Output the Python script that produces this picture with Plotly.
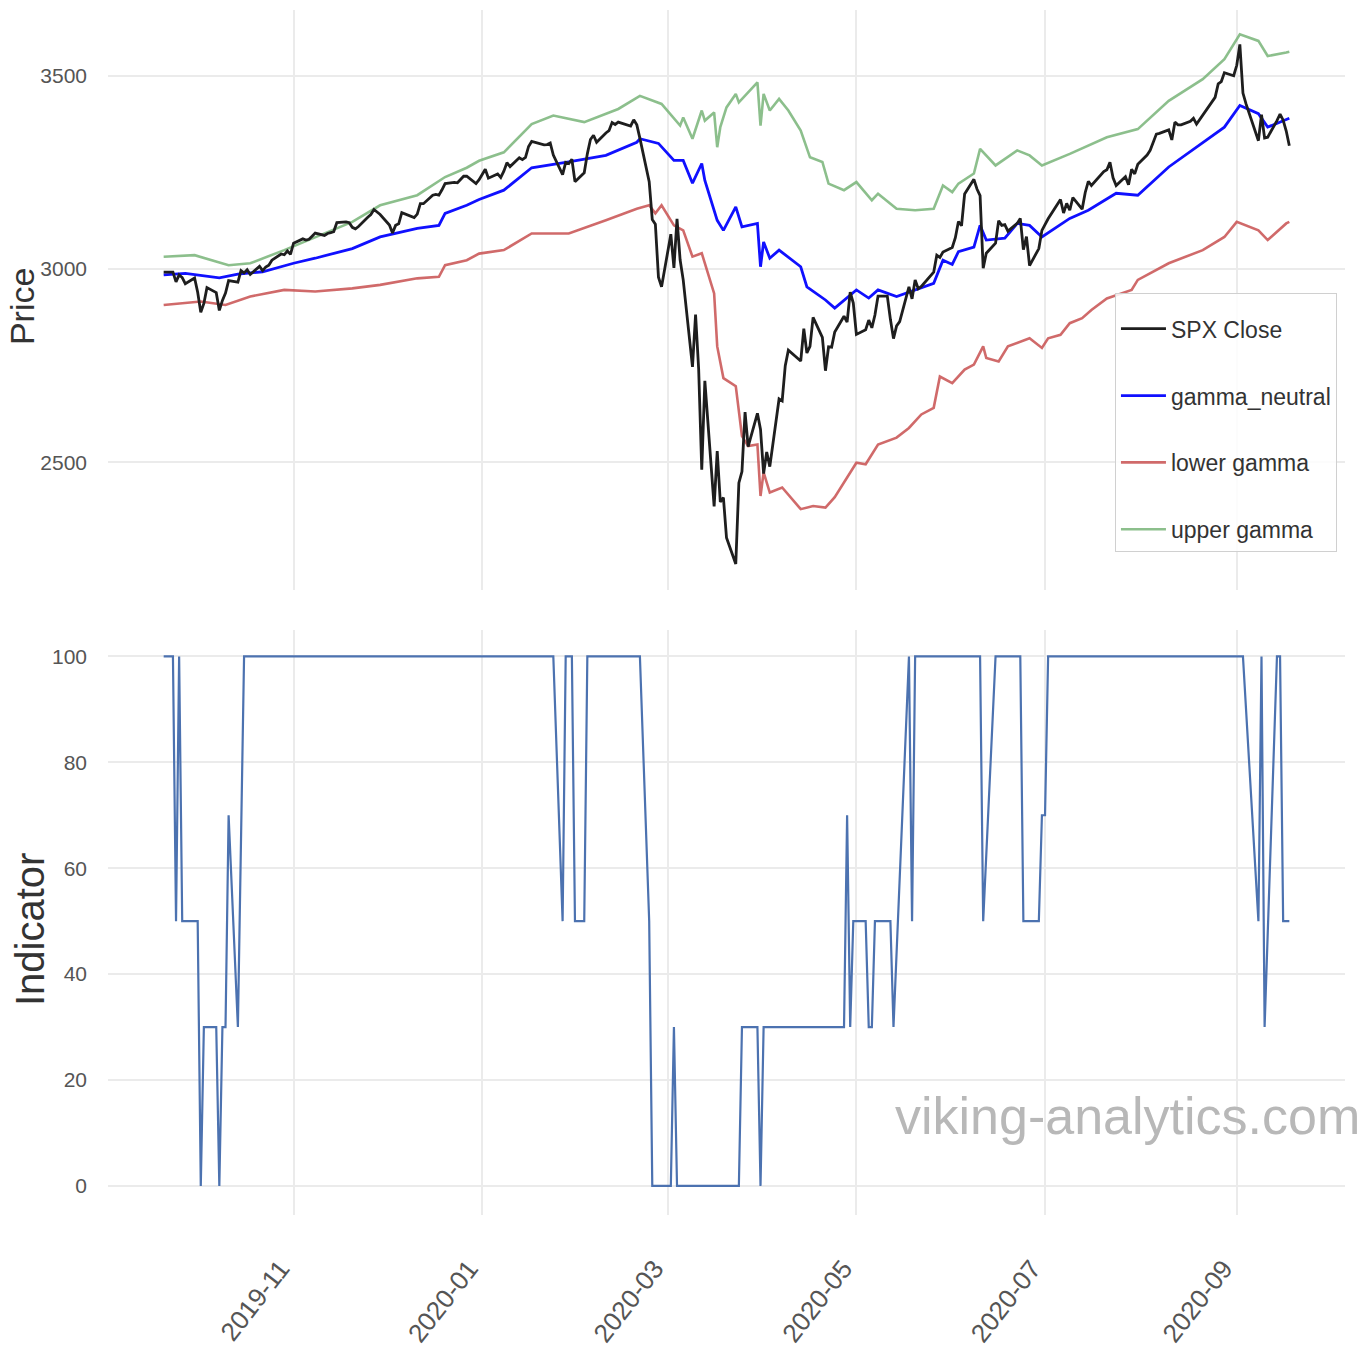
import plotly.graph_objects as go
from plotly.subplots import make_subplots

# ---------------- data ----------------
spx_dates = [
    "2019-09-20", "2019-09-23", "2019-09-24", "2019-09-25", "2019-09-26", "2019-09-27", "2019-09-30",
    "2019-10-01", "2019-10-02", "2019-10-03", "2019-10-04", "2019-10-07", "2019-10-08", "2019-10-09",
    "2019-10-10", "2019-10-11", "2019-10-14", "2019-10-15", "2019-10-16", "2019-10-17", "2019-10-18",
    "2019-10-21", "2019-10-22", "2019-10-23", "2019-10-24", "2019-10-25", "2019-10-28", "2019-10-29",
    "2019-10-30", "2019-10-31",
    "2019-11-01", "2019-11-04", "2019-11-05", "2019-11-06", "2019-11-07", "2019-11-08", "2019-11-11",
    "2019-11-12", "2019-11-13", "2019-11-14", "2019-11-15", "2019-11-18", "2019-11-19", "2019-11-20",
    "2019-11-21", "2019-11-22", "2019-11-25", "2019-11-26", "2019-11-27", "2019-11-29",
    "2019-12-02", "2019-12-03", "2019-12-04", "2019-12-05", "2019-12-06", "2019-12-09", "2019-12-10",
    "2019-12-11", "2019-12-12", "2019-12-13", "2019-12-16", "2019-12-17", "2019-12-18", "2019-12-19",
    "2019-12-20", "2019-12-23", "2019-12-24", "2019-12-26", "2019-12-27", "2019-12-30", "2019-12-31",
    "2020-01-02", "2020-01-03", "2020-01-06", "2020-01-07", "2020-01-08", "2020-01-09", "2020-01-10",
    "2020-01-13", "2020-01-14", "2020-01-15", "2020-01-16", "2020-01-17", "2020-01-21", "2020-01-22",
    "2020-01-23", "2020-01-24", "2020-01-27", "2020-01-28", "2020-01-29", "2020-01-30", "2020-01-31",
    "2020-02-03", "2020-02-04", "2020-02-05", "2020-02-06", "2020-02-07", "2020-02-10", "2020-02-11",
    "2020-02-12", "2020-02-13", "2020-02-14", "2020-02-18", "2020-02-19", "2020-02-20", "2020-02-21",
    "2020-02-24", "2020-02-25", "2020-02-26", "2020-02-27", "2020-02-28",
    "2020-03-02", "2020-03-03", "2020-03-04", "2020-03-05", "2020-03-06", "2020-03-09", "2020-03-10",
    "2020-03-11", "2020-03-12", "2020-03-13", "2020-03-16", "2020-03-17", "2020-03-18", "2020-03-19",
    "2020-03-20", "2020-03-23", "2020-03-24", "2020-03-25", "2020-03-26", "2020-03-27", "2020-03-30",
    "2020-03-31",
    "2020-04-01", "2020-04-02", "2020-04-03", "2020-04-06", "2020-04-07", "2020-04-08", "2020-04-09",
    "2020-04-13", "2020-04-14", "2020-04-15", "2020-04-16", "2020-04-17", "2020-04-20", "2020-04-21",
    "2020-04-22", "2020-04-23", "2020-04-24", "2020-04-27", "2020-04-28", "2020-04-29", "2020-04-30",
    "2020-05-01", "2020-05-04", "2020-05-05", "2020-05-06", "2020-05-07", "2020-05-08", "2020-05-11",
    "2020-05-12", "2020-05-13", "2020-05-14", "2020-05-15", "2020-05-18", "2020-05-19", "2020-05-20",
    "2020-05-21", "2020-05-22", "2020-05-26", "2020-05-27", "2020-05-28", "2020-05-29",
    "2020-06-01", "2020-06-02", "2020-06-03", "2020-06-04", "2020-06-05", "2020-06-08", "2020-06-09",
    "2020-06-10", "2020-06-11", "2020-06-12", "2020-06-15", "2020-06-16", "2020-06-17", "2020-06-18",
    "2020-06-19", "2020-06-22", "2020-06-23", "2020-06-24", "2020-06-25", "2020-06-26", "2020-06-29",
    "2020-06-30",
    "2020-07-01", "2020-07-02", "2020-07-06", "2020-07-07", "2020-07-08", "2020-07-09", "2020-07-10",
    "2020-07-13", "2020-07-14", "2020-07-15", "2020-07-16", "2020-07-17", "2020-07-20", "2020-07-21",
    "2020-07-22", "2020-07-23", "2020-07-24", "2020-07-27", "2020-07-28", "2020-07-29", "2020-07-30",
    "2020-07-31",
    "2020-08-03", "2020-08-04", "2020-08-05", "2020-08-06", "2020-08-07", "2020-08-10", "2020-08-11",
    "2020-08-12", "2020-08-13", "2020-08-14", "2020-08-17", "2020-08-18", "2020-08-19", "2020-08-20",
    "2020-08-21", "2020-08-24", "2020-08-25", "2020-08-26", "2020-08-27", "2020-08-28", "2020-08-31",
    "2020-09-01", "2020-09-02", "2020-09-03", "2020-09-04", "2020-09-08", "2020-09-09", "2020-09-10",
    "2020-09-11", "2020-09-14", "2020-09-15", "2020-09-16", "2020-09-17", "2020-09-18",
]
spx_close = [
    2992, 2992, 2967, 2985, 2978, 2962, 2977,
    2940, 2888, 2911, 2952, 2939, 2893, 2919,
    2938, 2970, 2966, 2996, 2990, 2998, 2986,
    3007, 2996, 3005, 3010, 3023, 3039, 3037,
    3047, 3038,
    3067, 3078, 3075, 3077, 3085, 3093, 3087,
    3092, 3094, 3097, 3120, 3122, 3120, 3108,
    3104, 3110, 3134, 3141, 3154, 3141,
    3114, 3093, 3113, 3117, 3146, 3136, 3133,
    3142, 3169, 3169, 3191, 3193, 3191, 3205,
    3221, 3224, 3223, 3240, 3240, 3221, 3231,
    3258, 3235, 3246, 3237, 3253, 3275, 3265,
    3288, 3283, 3289, 3317, 3330, 3321, 3322,
    3326, 3295, 3244, 3276, 3273, 3284, 3226,
    3249, 3298, 3335, 3346, 3328, 3352, 3358,
    3379, 3374, 3380, 3370, 3386, 3373, 3338,
    3226, 3128, 3116, 2979, 2954,
    3090, 3003, 3130, 3024, 2972, 2747, 2882,
    2741, 2481, 2711, 2386, 2529, 2398, 2409,
    2305, 2237, 2447, 2476, 2630, 2541, 2627,
    2585,
    2471, 2527, 2489, 2664, 2659, 2750, 2790,
    2762, 2846, 2783, 2800, 2875, 2823, 2737,
    2799, 2798, 2837, 2878, 2863, 2940, 2912,
    2831, 2843, 2868, 2848, 2881, 2930, 2930,
    2870, 2820, 2853, 2864, 2954, 2923, 2972,
    2949, 2955, 2992, 3036, 3030, 3044,
    3056, 3081, 3123, 3112, 3194, 3232, 3207,
    3190, 3002, 3041, 3067, 3125, 3113, 3115,
    3098, 3118, 3131, 3050, 3084, 3009, 3053,
    3100,
    3116, 3130, 3180, 3145, 3170, 3152, 3185,
    3155, 3198, 3227, 3216, 3225, 3252, 3257,
    3276, 3236, 3216, 3239, 3218, 3258, 3246,
    3271,
    3295, 3307, 3328, 3349, 3351, 3360, 3334,
    3380, 3373, 3373, 3382, 3390, 3375, 3386,
    3397, 3431, 3444, 3479, 3485, 3508, 3500,
    3527, 3581, 3455, 3427, 3332, 3399, 3339,
    3341, 3384, 3401, 3385, 3357, 3319,
]

gn_dates = [
    "2019-09-20", "2019-09-27", "2019-10-08", "2019-10-14", "2019-10-22", "2019-11-01", "2019-11-08",
    "2019-11-20", "2019-11-29", "2019-12-11", "2019-12-18", "2019-12-20", "2019-12-27", "2019-12-31",
    "2020-01-08", "2020-01-17", "2020-01-29", "2020-02-10", "2020-02-20", "2020-02-21", "2020-02-27",
    "2020-03-03", "2020-03-06", "2020-03-09", "2020-03-12", "2020-03-13", "2020-03-17", "2020-03-19",
    "2020-03-23", "2020-03-25", "2020-03-30", "2020-03-31", "2020-04-01", "2020-04-03", "2020-04-06",
    "2020-04-13", "2020-04-15", "2020-04-21", "2020-04-24", "2020-05-01", "2020-05-05", "2020-05-08",
    "2020-05-14", "2020-05-20", "2020-05-26", "2020-05-29", "2020-06-01", "2020-06-03", "2020-06-08",
    "2020-06-10", "2020-06-12", "2020-06-18", "2020-06-22", "2020-06-26", "2020-06-30", "2020-07-09",
    "2020-07-15", "2020-07-24", "2020-07-31", "2020-08-10", "2020-08-19", "2020-08-28", "2020-09-02",
    "2020-09-08", "2020-09-11", "2020-09-17", "2020-09-18",
]
gn_vals = [
    2985, 2989, 2977, 2987, 2993, 3015, 3028,
    3053, 3083, 3105, 3113, 3144, 3165, 3180,
    3204, 3262, 3277, 3294, 3328, 3337, 3325,
    3281, 3281, 3222, 3273, 3229, 3126, 3100,
    3161, 3109, 3118, 3006, 3070, 3028, 3049,
    3006, 2954, 2920, 2899, 2946, 2925, 2946,
    2929, 2946, 2963, 3023, 3012, 3045, 3057,
    3113, 3075, 3080, 3118, 3113, 3083, 3131,
    3152, 3196, 3191, 3264, 3315, 3367, 3423,
    3402, 3367, 3388, 3390,
]

lg_dates = [
    "2019-09-20", "2019-10-02", "2019-10-10", "2019-10-18", "2019-10-29", "2019-11-08", "2019-11-20",
    "2019-11-29", "2019-12-11", "2019-12-18", "2019-12-20", "2019-12-27", "2019-12-31", "2020-01-08",
    "2020-01-17", "2020-01-29", "2020-02-10", "2020-02-20", "2020-02-24", "2020-02-26", "2020-02-28",
    "2020-03-03", "2020-03-06", "2020-03-09", "2020-03-12", "2020-03-16", "2020-03-17", "2020-03-19",
    "2020-03-23", "2020-03-25", "2020-03-27", "2020-03-30", "2020-03-31", "2020-04-01", "2020-04-03",
    "2020-04-07", "2020-04-13", "2020-04-17", "2020-04-21", "2020-04-24", "2020-05-01", "2020-05-04",
    "2020-05-08", "2020-05-14", "2020-05-18", "2020-05-22", "2020-05-26", "2020-05-28", "2020-06-01",
    "2020-06-05", "2020-06-08", "2020-06-11", "2020-06-12", "2020-06-16", "2020-06-19", "2020-06-26",
    "2020-06-30", "2020-07-02", "2020-07-06", "2020-07-09", "2020-07-13", "2020-07-16", "2020-07-21",
    "2020-07-23", "2020-07-29", "2020-07-31", "2020-08-10", "2020-08-21", "2020-08-28", "2020-09-01",
    "2020-09-08", "2020-09-11", "2020-09-17", "2020-09-18",
]
lg_vals = [
    2907, 2916, 2907, 2929, 2946, 2942, 2950,
    2959, 2976, 2980, 3010, 3023, 3040, 3049,
    3092, 3092, 3126, 3156, 3165, 3144, 3165,
    3113, 3100, 3032, 3041, 2937, 2800, 2718,
    2697, 2568, 2542, 2546, 2413, 2474, 2422,
    2435, 2379, 2387, 2383, 2410, 2499, 2495,
    2546, 2564, 2589, 2624, 2641, 2722, 2705,
    2740, 2753, 2800, 2770, 2761, 2800, 2821,
    2796, 2821, 2830, 2860, 2873, 2894, 2924,
    2929, 2946, 2972, 3015, 3049, 3083, 3122,
    3100, 3075, 3118, 3122,
]

ug_dates = [
    "2019-09-20", "2019-09-30", "2019-10-11", "2019-10-18", "2019-10-29", "2019-11-08", "2019-11-20",
    "2019-11-29", "2019-12-11", "2019-12-20", "2019-12-27", "2019-12-31", "2020-01-08", "2020-01-17",
    "2020-01-24", "2020-02-03", "2020-02-14", "2020-02-21", "2020-02-25", "2020-02-28", "2020-03-05",
    "2020-03-06", "2020-03-09", "2020-03-12", "2020-03-13", "2020-03-16", "2020-03-17", "2020-03-18",
    "2020-03-20", "2020-03-23", "2020-03-24", "2020-03-30", "2020-03-31", "2020-04-01", "2020-04-03",
    "2020-04-06", "2020-04-09", "2020-04-13", "2020-04-16", "2020-04-20", "2020-04-22", "2020-04-27",
    "2020-05-01", "2020-05-06", "2020-05-08", "2020-05-14", "2020-05-20", "2020-05-26", "2020-05-29",
    "2020-06-01", "2020-06-03", "2020-06-08", "2020-06-10", "2020-06-15", "2020-06-22", "2020-06-26",
    "2020-06-30", "2020-07-09", "2020-07-21", "2020-07-31", "2020-08-10", "2020-08-21", "2020-08-28",
    "2020-09-02", "2020-09-08", "2020-09-11", "2020-09-17", "2020-09-18",
]
ug_vals = [
    3032, 3036, 3010, 3015, 3049, 3083, 3122,
    3165, 3191, 3238, 3262, 3280, 3302, 3375,
    3397, 3380, 3414, 3448, 3435, 3427, 3371,
    3392, 3337, 3410, 3384, 3405, 3315, 3367,
    3418, 3453, 3431, 3483, 3371, 3453, 3410,
    3440, 3410, 3358, 3289, 3277, 3221, 3204,
    3225, 3178, 3195, 3156, 3152, 3156, 3216,
    3199, 3221, 3247, 3311, 3268, 3307, 3294,
    3268, 3298, 3341, 3362, 3435, 3491, 3543,
    3607, 3590, 3551, 3560, 3562,
]

ind_dates = [
    "2019-09-20", "2019-09-23", "2019-09-24", "2019-09-25", "2019-09-26", "2019-10-01", "2019-10-02",
    "2019-10-03", "2019-10-07", "2019-10-08", "2019-10-09", "2019-10-10", "2019-10-11", "2019-10-14",
    "2019-10-16", "2020-01-24", "2020-01-27", "2020-01-28", "2020-01-30", "2020-01-31", "2020-02-03",
    "2020-02-04", "2020-02-21", "2020-02-24", "2020-02-25", "2020-03-02", "2020-03-03", "2020-03-04",
    "2020-03-24", "2020-03-25", "2020-03-30", "2020-03-31", "2020-04-01", "2020-04-27", "2020-04-28",
    "2020-04-29", "2020-04-30", "2020-05-04", "2020-05-05", "2020-05-06", "2020-05-07", "2020-05-12",
    "2020-05-13", "2020-05-18", "2020-05-19", "2020-05-20", "2020-06-10", "2020-06-11", "2020-06-15",
    "2020-06-23", "2020-06-24", "2020-06-29", "2020-06-30", "2020-07-01", "2020-07-02", "2020-09-03",
    "2020-09-08", "2020-09-09", "2020-09-10", "2020-09-14", "2020-09-15", "2020-09-16", "2020-09-17",
    "2020-09-18",
]
ind_vals = [
    100, 100, 50, 100, 50, 50, 0,
    30, 30, 0, 30, 30, 70, 30,
    100, 100, 50, 100, 100, 50, 50,
    100, 100, 50, 0, 0, 30, 0,
    0, 30, 30, 0, 30, 30, 70,
    30, 50, 50, 30, 30, 50, 50,
    30, 100, 50, 100, 100, 50, 100,
    100, 50, 50, 70, 70, 100, 100,
    50, 100, 30, 100, 100, 50, 50,
    50,
]

price_ticks = [2500, 3000, 3500]
ind_ticks = [0, 20, 40, 60, 80, 100]
x_ticks = ["2019-11-01", "2020-01-01", "2020-03-01", "2020-05-01", "2020-07-01", "2020-09-01"]

# ---------------- figure ----------------
FONT = "Liberation Sans, Arial, Helvetica, sans-serif"
GRID = "#ebebeb"
TICKC = "#555555"

fig = make_subplots(rows=2, cols=1, shared_xaxes=True)

fig.add_trace(go.Scatter(x=lg_dates, y=lg_vals, mode="lines", name="lower gamma",
                         line=dict(color="rgba(200,80,80,0.85)", width=2.6),
                         legendgroup="c", legendrank=3), row=1, col=1)
fig.add_trace(go.Scatter(x=ug_dates, y=ug_vals, mode="lines", name="upper gamma",
                         line=dict(color="rgba(120,180,120,0.85)", width=2.6),
                         legendgroup="d", legendrank=4), row=1, col=1)
fig.add_trace(go.Scatter(x=gn_dates, y=gn_vals, mode="lines", name="gamma_neutral",
                         line=dict(color="#1010ff", width=2.8),
                         legendgroup="b", legendrank=2), row=1, col=1)
fig.add_trace(go.Scatter(x=spx_dates, y=spx_close, mode="lines", name="SPX Close",
                         line=dict(color="#1e1e1e", width=2.8),
                         legendgroup="a", legendrank=1), row=1, col=1)
fig.add_trace(go.Scatter(x=ind_dates, y=ind_vals, mode="lines", name="Indicator",
                         line=dict(color="#4c72b0", width=2.2), showlegend=False),
              row=2, col=1)

xr = ["2019-09-02", "2020-10-06"]
fig.update_xaxes(range=xr, type="date", tickvals=x_ticks, tickformat="%Y-%m",
                 showgrid=True, gridcolor=GRID, gridwidth=1.5, zeroline=False,
                 showline=False, ticks="", automargin=False)
fig.update_xaxes(showticklabels=False, row=1, col=1)
fig.update_xaxes(showticklabels=True, tickangle=-52, ticklabelstandoff=32, ticklabelshift=-13,
                 tickfont=dict(family=FONT, size=26, color=TICKC), row=2, col=1)

fig.update_yaxes(range=[2170, 3670], tickvals=price_ticks, showgrid=True, gridcolor=GRID,
                 gridwidth=2, zeroline=False, showline=False, ticks="", ticklabelstandoff=20,
                 automargin=False,
                 tickfont=dict(family=FONT, size=21, color=TICKC),
                 domain=[0.5187, 1.0], row=1, col=1)
fig.update_yaxes(range=[-5.5, 105], tickvals=ind_ticks, showgrid=True, gridcolor=GRID,
                 gridwidth=2, zeroline=False, showline=False, ticks="", ticklabelstandoff=20,
                 automargin=False,
                 tickfont=dict(family=FONT, size=21, color=TICKC),
                 domain=[0.0, 0.4855], row=2, col=1)

# axis titles (rotated)
fig.add_annotation(text="Price", xref="paper", yref="paper", x=-0.0695, y=0.7535,
                   xanchor="center", yanchor="middle", textangle=-90, showarrow=False,
                   font=dict(family=FONT, size=34, color="#333333"))
fig.add_annotation(text="Indicator", xref="paper", yref="paper", x=-0.0630, y=0.2365,
                   xanchor="center", yanchor="middle", textangle=-90, showarrow=False,
                   font=dict(family=FONT, size=40, color="#333333"))

fig.add_annotation(text="viking-analytics.com", xref="paper", yref="paper",
                   x=1.014, y=0.082, xanchor="right", yanchor="middle", showarrow=False,
                   font=dict(family=FONT, size=52, color="#b8b8b8"))

fig.update_layout(
    width=1370, height=1360,
    margin=dict(l=108, r=25, t=10, b=145),
    paper_bgcolor="white", plot_bgcolor="white",
    showlegend=True,
    legend=dict(x=0.9935, y=0.765, xanchor="right", yanchor="top",
                bgcolor="rgba(255,255,255,0.85)", bordercolor="#d0d0d0", borderwidth=1,
                font=dict(family=FONT, size=23, color="#333333"),
                title=dict(text=" ", font=dict(size=10)),
                tracegroupgap=34, itemwidth=45, traceorder="grouped"),
)

fig.write_html("out.html", config={"displayModeBar": False},
               post_script="document.body.style.margin='0';")
